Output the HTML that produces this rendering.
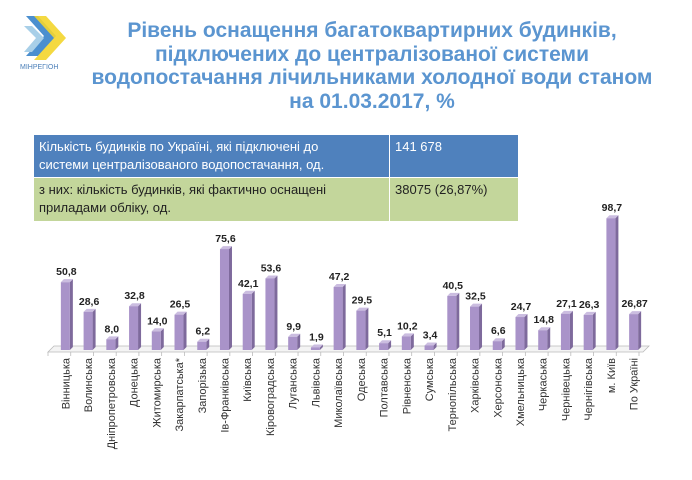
<!DOCTYPE html>
<html><head><meta charset="utf-8">
<style>
body{margin:0;width:692px;height:480px;background:#fff;overflow:hidden;font-family:"Liberation Sans","DejaVu Sans",sans-serif;}
#title{position:absolute;left:72px;top:19px;width:600px;text-align:center;color:#5b95d0;font-weight:bold;font-size:21px;line-height:23.5px;white-space:nowrap;}
table{position:absolute;left:33px;top:134px;border-collapse:collapse;font-size:13px;}
td{padding:3px 5px;vertical-align:top;line-height:18px;border:1px solid #fff;white-space:nowrap;}
.r1 td{background:#4f81bd;color:#fff;height:35px;}
.r2 td{background:#c3d69b;color:#222;height:37px;}
</style></head><body>
<svg style="position:absolute;left:18px;top:12px" width="50" height="60">
<polygon points="8,4 20,4 38,24 20,44 8,44 26,24" fill="#4b8fcf"/>
<polygon points="16,4 28,4 48,26 28,48 16,48 36,26" fill="#f3d52c" opacity=".9"/>
<polygon points="6,14 14,14 26,26 14,40 6,40 18,26" fill="#a8cfe8"/>
<text x="2" y="57" font-size="7" fill="#4b7fb8" font-family="Liberation Sans">МІНРЕГІОН</text>
</svg>
<div id="title">Рівень оснащення багатоквартирних будинків,<br>підключених до централізованої системи<br>водопостачання лічильниками холодної води станом<br>на 01.03.2017, %</div>
<table>
<tr class="r1"><td style="width:345px">Кількість будинків по Україні, які підключені до<br>системи централізованого водопостачання, од.</td><td style="width:118px">141 678</td></tr>
<tr class="r2"><td>з них: кількість будинків, які фактично оснащені<br>приладами обліку, од.</td><td>38075 (26,87%)</td></tr>
</table>
<svg id="chart" style="position:absolute;left:0;top:0" width="692" height="480"></svg>
<script>
const categories=["Вінницька","Волинська","Дніпропетровська","Донецька","Житомирська","Закарпатська*","Запорізька","Ів-Франківська","Київська","Кіровоградська","Луганська","Львівська","Миколаївська","Одеська","Полтавська","Рівненська","Сумська","Тернопільська","Харківська","Херсонська","Хмельницька","Черкаська","Чернівецька","Чернігівська","м. Київ","По Україні"];
const values=[50.8,28.6,8.0,32.8,14.0,26.5,6.2,75.6,42.1,53.6,9.9,1.9,47.2,29.5,5.1,10.2,3.4,40.5,32.5,6.6,24.7,14.8,27.1,26.3,98.7,26.87];
const labels=["50,8","28,6","8,0","32,8","14,0","26,5","6,2","75,6","42,1","53,6","9,9","1,9","47,2","29,5","5,1","10,2","3,4","40,5","32,5","6,6","24,7","14,8","27,1","26,3","98,7","26,87"];
const svg=document.getElementById('chart');const NS='http://www.w3.org/2000/svg';
const x0=52,x1=643,base=350,scale=1.335;
const step=(x1-x0)/categories.length;
const xc=i=>x0+step*(i+0.5)+2;
const y=v=>base-v*scale;
function mk(t,a,p){const e=document.createElementNS(NS,t);for(const k in a)e.setAttribute(k,a[k]);(p||svg).appendChild(e);return e;}
const floor=mk('polygon',{points:`${x0-4},${base+2} ${x0+2},${base-4} ${x1+6},${base-4} ${x1},${base+2}`,fill:'#f4f4f4',stroke:'#bbb','stroke-width':'0.8'});


for(let i=0;i<=categories.length;i++){const t=mk('line',{x1:x0-4+step*i,y1:base+2,x2:x0-4+step*i,y2:base+6,stroke:'#bbb','stroke-width':'0.8'});

}
categories.forEach((c,i)=>{
 const cx=xc(i),yt=y(values[i]),w=9;
 const g=mk('g',{});
 
 
 mk('polygon',{points:`${cx+w/2},${yt} ${cx+w/2+3},${yt-3} ${cx+w/2+3},${base-3} ${cx+w/2},${base}`,fill:'#7e6a9c'},g);
 mk('polygon',{points:`${cx-w/2},${yt} ${cx-w/2+3},${yt-3} ${cx+w/2+3},${yt-3} ${cx+w/2},${yt}`,fill:'#cbbde0'},g);
 mk('rect',{x:cx-w/2,y:yt,width:w,height:base-yt,fill:'#a993c9'},g);
 const vl=mk('text',{x:cx+1,y:yt-7,'text-anchor':'middle','font-size':'10.5','font-weight':'bold',fill:'#222','font-family':'Liberation Sans'});
 vl.textContent=labels[i];
 
 
 const cl=mk('text',{transform:`translate(${cx+4},358) rotate(-90)`,'text-anchor':'end','font-size':'11',fill:'#333','font-family':'Liberation Sans'});
 cl.textContent=c;
 
 
});
</script>
</body></html>
